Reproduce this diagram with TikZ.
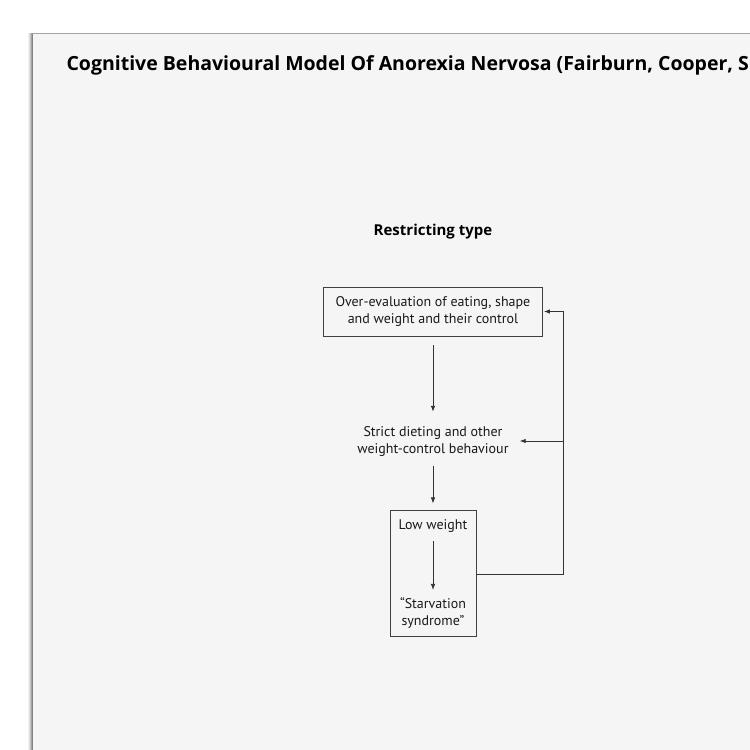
\documentclass[tikz,border=0pt]{standalone}
\usepackage{fontspec}
\setmainfont{PT Sans}
\newfontfamily\headfont{Open Sans}
\usetikzlibrary{positioning,fit,arrows.meta}

\tikzset{
  stage/.style={align=center, inner sep=0pt, text=black!90,
    font=\fontsize{14}{17}\selectfont},
  stagebox/.style={stage, draw=black!75, line width=0.8pt},
  flow/.style={draw=black!80, line width=0.8pt, -{Latex[length=6pt,width=4.5pt]}}
}

\begin{document}
\begin{tikzpicture}[x=1pt, y=-1pt]
\useasboundingbox (0,0) rectangle (750,750);
\clip (0,0) rectangle (750,750);
% The sheet of paper and its shadow
\foreach \s/\op in {5/0.05, 4/0.08, 3/0.12, 2/0.16, 1/0.2} {
  \fill [black, opacity=\op] (33-\s,34-\s*0.3) rectangle (760,760);
}
\fill [black!4] (33,34) rectangle (760,760);
% Title and heading
\node [anchor=base west, font=\headfont\fontsize{19.5}{24}\selectfont\bfseries] (title) at (63,70)
  {Cognitive Behavioural Model Of Anorexia Nervosa (Fairburn, Cooper, S};
\node [anchor=base, font=\headfont\fontsize{15}{18}\selectfont\bfseries] (head) at (433,235)
  {Restricting type};
% The stages of the cycle
\node [stagebox, minimum width=219pt, minimum height=49pt] (overeval) at (433,311.5)
  {Over-evaluation of eating, shape\\and weight and their control};
\node [stage] (dieting) at (433,441)
  {Strict dieting and other\\weight-control behaviour};
\node [stage, anchor=base] (lowwt) at (433,529) {Low weight};
\node [stage, anchor=base] (starv) at (433,625) {``Starvation\\syndrome''};
\node [draw=black!75, line width=0.8pt, fit=(lowwt)(starv), inner xsep=8.5pt,
  inner ysep=8pt] (lowbox) {};
% Arrows down the cycle
\draw [flow] ([yshift=-9pt]overeval.south) -- ([yshift=14pt]dieting.north);
\draw [flow] ([yshift=-10pt]dieting.south) -- ([yshift=7pt]lowbox.north);
\draw [flow] ([yshift=-9pt]lowwt.south) -- ([yshift=7pt]starv.north);
% Feedback loop on the right
\coordinate (back) at (563,574);
\draw [flow] (lowbox.east |- back) -- (back) |- ([xshift=1pt]overeval.east);
\draw [flow] (back |- dieting) -- ([xshift=11pt]dieting.east);
\end{tikzpicture}
\end{document}
